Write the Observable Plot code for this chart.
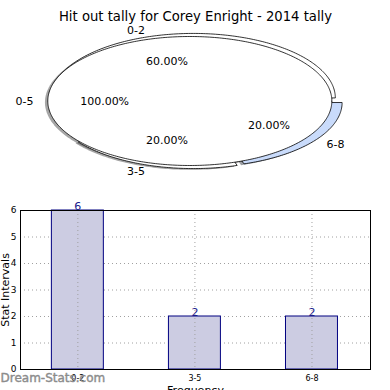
<!DOCTYPE html>
<html>
<head>
<meta charset="utf-8">
<script src="https://cdn.jsdelivr.net/npm/d3@7"></script>
<script src="https://cdn.jsdelivr.net/npm/@observablehq/plot@0.6"></script>
<style>
  html, body { margin: 0; padding: 0; background: white; }
  #chart svg { display: block; }
</style>
</head>
<body>
<div id="chart"></div>
<script>
// ---- data ----
const title = "Hit out tally for Corey Enright - 2014 tally";
const innerPieLabels = ["0-5"];
const innerPieValues = [100];
const outerPieLabels = ["0-2", "3-5", "6-8"];
const outerPieValues = [60, 20, 20];
const barCategories = ["0-2", "3-5", "6-8"];
const barCounts = [6, 2, 2];
const yTicks = [0, 1, 2, 3, 4, 5, 6];
const xLabel = "Frequency";
const yLabel = "Stat Intervals";
const watermark = "Dream-Stats.com";

// ---- styles / layout ----
const FONT = "DejaVu Sans, Liberation Sans, sans-serif";
const outerColors = ["#ffffff", "#ffffff", "#c9dbfb"];
const innerColors = ["#ffffff"];
const outerExplode = [0.05, 0.05, 0.04];
const innerExplode = [0.04];

function buildPie(labels, values, colors, explode) {
  const total = d3.sum(values);
  let start = 0;
  return labels.map((label, i) => {
    const frac = values[i] / total;
    const t1 = start, t2 = start + frac * 360;
    start = t2;
    const mid = (t1 + t2) / 2 * Math.PI / 180;
    const ox = explode[i] * Math.cos(mid), oy = explode[i] * Math.sin(mid);
    return {label, pct: frac * 100, t1, t2, mid, ox, oy, color: colors[i]};
  });
}
function wedgePoints(w, dx = 0, dy = 0) {
  const pts = [];
  const full = (w.t2 - w.t1) >= 359.999;
  if (!full) pts.push([w.ox + dx, w.oy + dy]);
  const n = Math.max(8, Math.ceil((w.t2 - w.t1) / 1));
  for (let k = 0; k <= n; k++) {
    const t = (w.t1 + (w.t2 - w.t1) * k / n) * Math.PI / 180;
    pts.push([w.ox + dx + Math.cos(t), w.oy + dy + Math.sin(t)]);
  }
  pts.push(pts[0]);
  return pts;
}

const outer = buildPie(outerPieLabels, outerPieValues, outerColors, outerExplode);
const inner = buildPie(innerPieLabels, innerPieValues, innerColors, innerExplode);
const allWedges = [...outer, ...inner];

const shadowMarks = allWedges.map(w => {
  const c = d3.rgb(w.color);
  const sc = d3.rgb(c.r * 0.3, c.g * 0.3, c.b * 0.3);
  return Plot.line(wedgePoints(w, -0.02, -0.02), {
    x: d => d[0], y: d => d[1], fill: sc.toString(), fillOpacity: 0.5, stroke: "none", curve: "linear"
  });
});
const wedgeMarks = allWedges.map(w => Plot.line(wedgePoints(w), {
  x: d => d[0], y: d => d[1], fill: w.color, stroke: "black", strokeWidth: 0.8, curve: "linear"
}));

const labelPts = allWedges.map(w => ({
  label: w.label,
  x: w.ox + 1.1 * Math.cos(w.mid), y: w.oy + 1.1 * Math.sin(w.mid),
  px: w.ox + 0.6 * Math.cos(w.mid), py: w.oy + 0.6 * Math.sin(w.mid),
  pct: w.pct.toFixed(2) + "%"
}));

const pie = Plot.plot({
  width: 390, height: 195,
  margin: 0,
  x: {domain: [-1.373, 1.373], axis: null},
  y: {domain: [-1.465, 1.558], axis: null},
  style: {fontFamily: FONT, background: "white"},
  marks: [
    ...shadowMarks,
    ...wedgeMarks,
    Plot.text(labelPts.filter(d => d.x > 0), {x: "x", y: "y", text: "label", textAnchor: "start", fontSize: 11, fill: "black"}),
    Plot.text(labelPts.filter(d => d.x <= 0), {x: "x", y: "y", text: "label", textAnchor: "end", fontSize: 11, fill: "black"}),
    Plot.text(labelPts, {x: "px", y: "py", text: "pct", fontSize: 11, fill: "black"}),
    Plot.text([title], {frameAnchor: "top", dy: 11, fontSize: 13.2, fill: "black"})
  ]
});

const barData = barCategories.map((c, i) => ({i, cat: c, count: barCounts[i]}));
const bar = Plot.plot({
  width: 390, height: 195,
  marginLeft: 20, marginRight: 20, marginTop: 15, marginBottom: 21,
  x: {domain: [-0.49, 2.5], axis: null},
  y: {domain: [0, 6], axis: null},
  style: {fontFamily: FONT, background: "white"},
  marks: [
    Plot.gridY(yTicks, {stroke: "#a0a0a0", strokeOpacity: 1, strokeDasharray: "1,3"}),
    Plot.rectY(barData, {x1: d => d.i - 0.222, x2: d => d.i + 0.222, y1: 0, y2: "count", fill: "#ccccE2", stroke: "#000080", strokeWidth: 1}),
    Plot.gridX(barData.map(d => d.i), {stroke: "#a0a0a0", strokeOpacity: 1, strokeDasharray: "1,3"}),
    Plot.frame({stroke: "black"}),
    Plot.axisY(yTicks, {tickSize: 0, tickPadding: 4, fontSize: 9, label: null, fill: "black"}),
    Plot.axisX(barData.map(d => d.i), {tickSize: 0, tickPadding: 6, fontSize: 8, label: null, tickFormat: i => barCategories[i], fill: "black"}),
    Plot.text(barData, {x: "i", y: "count", text: d => String(d.count), dy: -4, fontSize: 11, fill: "#1a1a8c"}),
    Plot.text([yLabel], {frameAnchor: "left", textAnchor: "middle", dx: -15, rotate: -90, fontSize: 11, fill: "black"}),
    Plot.text([xLabel], {frameAnchor: "bottom", dy: 24, fontSize: 11, fill: "black"}),
    Plot.text([watermark], {frameAnchor: "bottom-left", textAnchor: "start", dx: -20, dy: 12, fontSize: 12, fill: "#8c8c8c", stroke: "#8c8c8c", strokeWidth: 0.4})
  ]
});

document.getElementById("chart").append(pie, bar);
</script>
</body>
</html>
